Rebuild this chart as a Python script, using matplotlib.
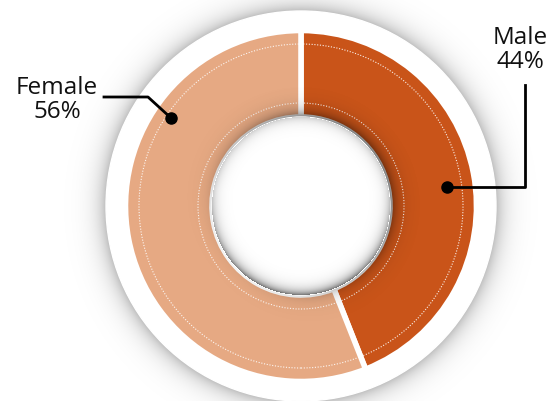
import numpy as np
import matplotlib
matplotlib.use("Agg")
import matplotlib.pyplot as plt
from matplotlib.patches import Circle

# data
labels = ["Male", "Female"]
shares = [44, 56]
colors = ["#C95419", "#E6A983"]

W, H = 551, 401
cx, cy = 301, 401 - 206
r_out, r_ring, r_hole = 195, 175.5, 89

plt.rcParams["font.family"] = ["Open Sans", "DejaVu Sans"]

fig = plt.figure(figsize=(W / 100, H / 100), dpi=100)
ax = fig.add_axes([0, 0, 1, 1])
ax.set_xlim(0, W)
ax.set_ylim(0, H)
ax.set_aspect("equal")
ax.axis("off")

# soft shadow around the outer white ring
xx, yy = np.meshgrid(np.arange(W) + 0.5, H - np.arange(H) - 0.5)
rr = np.hypot(xx - cx, yy - cy)
sh = np.zeros((H, W, 4))
sh[..., 3] = 0.32 * np.exp(-np.clip(rr - r_out + 2, 0, None) / 10.0)
sh[rr < r_out - 3, 3] = 0
ax.imshow(sh, extent=(0, W, 0, H), zorder=0)
ax.add_patch(Circle((cx, cy), r_out, color="white", zorder=1))

# donut
ax.pie(shares, colors=colors, startangle=90, counterclock=False,
       center=(cx, cy), radius=r_ring,
       wedgeprops=dict(width=r_ring - r_hole, edgecolor="white", linewidth=4))
for w in ax.patches[-2:]:
    w.set_zorder(2)
ax.set_xlim(0, W)
ax.set_ylim(0, H)

# dotted guide circles
for rad in (162, 103):
    ax.add_patch(Circle((cx, cy), rad, fill=False, ec="white", lw=0.8,
                        ls=(0, (1, 1.5)), alpha=0.9, zorder=3))

# shadow cast by the centre disc onto the ring
ang = np.arctan2(yy - cy, xx - cx)
d_out = rr - r_hole
cast = np.zeros((H, W, 4))
cast[..., 3] = np.where((d_out > 0) & (d_out < 30),
                        0.6 * np.exp(-d_out / 7.0) * (0.55 + 0.45 * np.cos(ang - 0.7)), 0)
ax.imshow(cast, extent=(0, W, 0, H), zorder=4)

# centre disc with darker rim towards the bottom
ax.add_patch(Circle((cx, cy), r_hole, color="white", zorder=5))
d_in = r_hole - rr
rim = np.zeros((H, W, 4))
rim[..., 3] = np.where((d_in > 0) & (d_in < 25),
                       0.55 * np.exp(-d_in / 5.0) * (0.35 + 0.65 * np.clip(-np.sin(ang) + 0.2, 0, 1)), 0)
ax.imshow(rim, extent=(0, W, 0, H), zorder=6)

# labels with leader lines
ax.text(57, H - 100, "Female\n56%", ha="center", va="center", fontsize=17.5,
        linespacing=1.0, color="#111111", zorder=7)
ax.plot([104, 148, 171], [H - 97, H - 97, H - 118], color="black", lw=2, zorder=7)
ax.plot([171], [H - 118], "o", color="black", ms=8, zorder=8)

ax.text(520, H - 50, "Male\n44%", ha="center", va="center", fontsize=17.5,
        linespacing=1.0, color="#111111", zorder=7)
ax.plot([525, 525, 447], [H - 85, H - 187, H - 187], color="black", lw=2, zorder=7)
ax.plot([447], [H - 187], "o", color="black", ms=8, zorder=8)

fig.savefig("out.png", dpi=100)
